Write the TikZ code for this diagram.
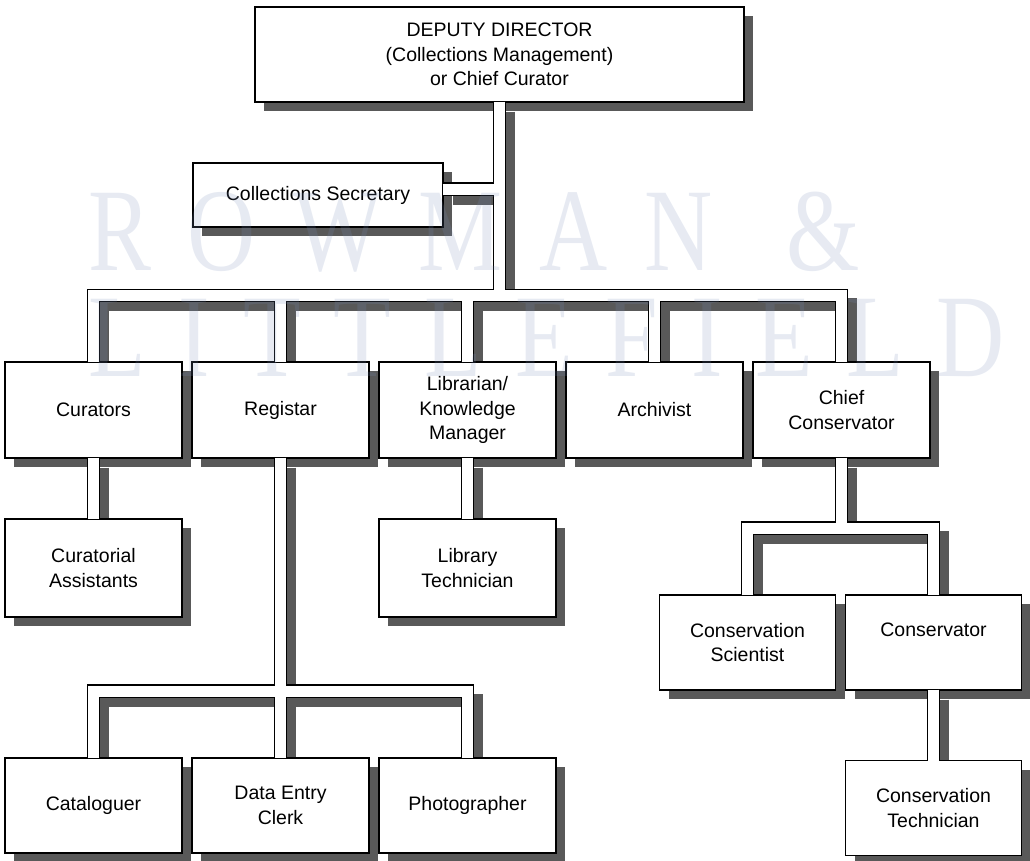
\documentclass[tikz,border=0pt]{standalone}
\usepackage{fontspec}
\setmainfont{Liberation Sans}
\newfontfamily\wmfont{Liberation Serif}
\usetikzlibrary{calc,shadows}

\definecolor{shade}{gray}{0.35}
\definecolor{wmblue}{RGB}{120,140,185}

\pgfdeclarelayer{shadowlayer}
\pgfdeclarelayer{pipelayer}
\pgfdeclarelayer{marklayer}
\pgfsetlayers{shadowlayer,main,pipelayer,marklayer}

\tikzset{
  box/.style={draw=black, line width=1.1pt, fill=white, inner sep=0pt,
    minimum width=177pt, minimum height=96pt, align=center,
    font=\fontsize{19.5}{24.5}\selectfont,
    drop shadow={shadow xshift=9pt, shadow yshift=-9pt, fill=shade,
      draw=none, opacity=1}},
  pipeshadow/.style={draw=shade, line width=13pt, line join=miter},
  pipeedge/.style={draw=black, line width=13.8pt, line join=miter},
  pipefill/.style={draw=white, line width=11pt, line join=miter,
    shorten <=-0.9pt, shorten >=-0.9pt},
  wmark/.style={text=wmblue, text opacity=0.18, inner sep=0pt,
    font=\wmfont\fontsize{118}{118}\selectfont},
}

% every reporting line of the chart, drawn with the style given
\newcommand\orgpipes[1]{%
  \draw[#1] (dd.south) -- (dd.south |- mainbar);
  \draw[#1] (secj) -- (dd.south |- secj);
  \draw[#1] (cur.north) -- (cur.north |- mainbar) -- (chief.north |- mainbar) -- (chief.north);
  \draw[#1] (reg.north) -- (reg.north |- mainbar);
  \draw[#1] (lib.north) -- (lib.north |- mainbar);
  \draw[#1] (arch.north) -- (arch.north |- mainbar);
  \draw[#1] (cur.south) -- (ca.north);
  \draw[#1] (lib.south) -- (lt.north);
  \draw[#1] (reg.south) -- (dec.north);
  \draw[#1] (cat.north) -- (cat.north |- lowbar) -- (pho.north |- lowbar) -- (pho.north);
  \draw[#1] (chief.south) -- (chief.south |- consbar);
  \draw[#1] (sci.north) -- (sci.north |- consbar) -- (con.north |- consbar) -- (con.north);
  \draw[#1] (con.south) -- (tech.north);
}

\begin{document}
\begin{tikzpicture}[x=1pt, y=-1pt]
\useasboundingbox (0,0) rectangle (1030,860);

% boxes
\node[box, minimum width=489pt, minimum height=95pt] (dd) at (499.5,54.5)
  {DEPUTY DIRECTOR\\(Collections Management)\\or Chief Curator};
\node[box, minimum width=250pt, minimum height=64pt] (sec) at (318,195) {Collections Secretary};

\node[box] (cur)   at (93.5,410)  {Curators};
\node[box] (reg)   at (280.5,410) {Registar};
\node[box] (lib)   at (467.5,410) {Librarian/\\Knowledge\\Manager};
\node[box] (arch)  at (654.5,410) {Archivist};
\node[box] (chief) at (841.5,410) {Chief\\Conservator};

\node[box, minimum height=98pt] (ca) at (93.5,568)  {Curatorial\\Assistants};
\node[box, minimum height=98pt] (lt) at (467.5,568) {Library\\Technician};

\node[box, minimum width=176pt, minimum height=95pt] (sci) at (747.5,642.5) {Conservation\\Scientist};
\node[box, minimum width=176pt, minimum height=95pt] (con) at (933.5,642.5) {Conservator\\\phantom{Scientist}};

\node[box, minimum height=95pt] (cat) at (93.5,805.5)  {Cataloguer};
\node[box, minimum height=95pt] (dec) at (280.5,805.5) {Data Entry\\Clerk};
\node[box, minimum height=95pt] (pho) at (467.5,805.5) {Photographer};
\node[box, minimum width=176pt, minimum height=95pt] (tech) at (933.5,808) {Conservation\\Technician};

% levels of the horizontal bars
\coordinate (mainbar) at (0,295.5);
\coordinate (lowbar)  at (0,691);
\coordinate (consbar) at (0,528);
\coordinate (secj) at ([yshift=6pt]sec.east);

% shadows of the channels
\begin{pgfonlayer}{shadowlayer}
  \begin{scope}[transform canvas={xshift=9pt, yshift=-9pt}]
    \orgpipes{pipeshadow}
  \end{scope}
\end{pgfonlayer}

% connecting channels
\begin{pgfonlayer}{pipelayer}
  \orgpipes{pipeedge}
  \orgpipes{pipefill}
\end{pgfonlayer}

% publisher mark
\begin{pgfonlayer}{marklayer}
  \node[wmark, anchor=base west] (wmtop) at (88,270)
    {\scalebox{0.8}[1]{\makebox[965pt][l]{R\hfill O\hfill W\hfill M\hfill A\hfill N\hfill\hfill\&}}};
  \node[wmark, anchor=base west] (wmbot) at (88,376)
    {\scalebox{0.8}[1]{\makebox[1146pt][l]{L\hfill I\hfill T\hfill T\hfill L\hfill E\hfill F\hfill I\hfill E\hfill L\hfill D}}};
\end{pgfonlayer}
\end{tikzpicture}
\end{document}
